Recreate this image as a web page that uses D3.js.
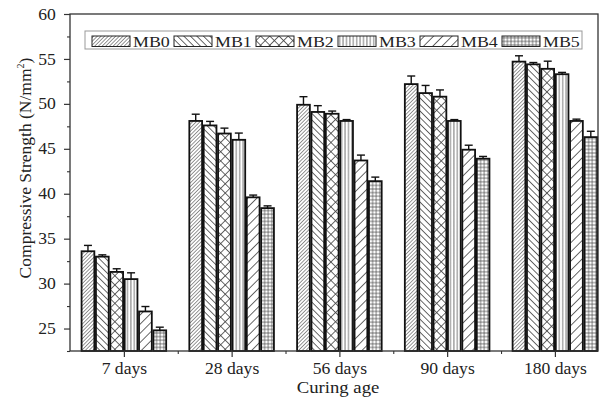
<!DOCTYPE html>
<html>
<head>
<meta charset="utf-8">
<script src="https://cdn.jsdelivr.net/npm/d3@7"></script>
<style>
  html, body { margin: 0; padding: 0; background: #fff; }
  svg { display: block; font-family: "Liberation Serif", "Times New Roman", serif; }
</style>
</head>
<body>
<div id="chart"></div>
<script>
// ---------------- data ----------------
const CATEGORIES = ["7 days", "28 days", "56 days", "90 days", "180 days"];
const SERIES = ["MB0", "MB1", "MB2", "MB3", "MB4", "MB5"];

const MB0 = [33.6, 48.1, 49.9, 52.2, 54.7];
const MB1 = [33.0, 47.6, 49.1, 51.2, 54.4];
const MB2 = [31.3, 46.7, 48.9, 50.8, 53.9];
const MB3 = [30.5, 46.0, 48.1, 48.1, 53.3];
const MB4 = [26.9, 39.6, 43.7, 44.9, 48.1];
const MB5 = [24.8, 38.4, 41.4, 43.9, 46.3];

const ERR0 = [0.65, 0.75, 0.9, 0.9, 0.65];
const ERR1 = [0.2, 0.45, 0.7, 0.85, 0.2];
const ERR2 = [0.35, 0.6, 0.3, 0.75, 0.85];
const ERR3 = [0.7, 0.75, 0.15, 0.15, 0.2];
const ERR4 = [0.55, 0.25, 0.6, 0.5, 0.2];
const ERR5 = [0.35, 0.25, 0.45, 0.25, 0.65];

const Y_TICKS = [25, 30, 35, 40, 45, 50, 55, 60];

(function () {

  const VALUES = [MB0, MB1, MB2, MB3, MB4, MB5];
  const ERRORS = [ERR0, ERR1, ERR2, ERR3, ERR4, ERR5];

  const W = 606, H = 398;
  const left = 70, right = 598, top = 14, bottom = 351;
  const INK = "#222";
  const SX = 1.1;   // the source text is a bit wide, stretch it horizontally

  const svg = d3.select("#chart").append("svg")
    .attr("width", W)
    .attr("height", H);

  svg.append("rect").attr("width", W).attr("height", H).attr("fill", "#fff");

  // ---- hatch patterns ----
  const defs = svg.append("defs");
  function hatch(id, size, angle, cross, width, col) {
    const p = defs.append("pattern")
      .attr("id", id)
      .attr("patternUnits", "userSpaceOnUse")
      .attr("width", size)
      .attr("height", size)
      .attr("patternTransform", `rotate(${angle})`);
    p.append("rect").attr("width", size).attr("height", size).attr("fill", "#fff");
    p.append("line")
      .attr("x1", size / 2).attr("y1", 0).attr("x2", size / 2).attr("y2", size)
      .attr("stroke", col).attr("stroke-width", width);
    if (cross) {
      p.append("line")
        .attr("x1", 0).attr("y1", size / 2).attr("x2", size).attr("y2", size / 2)
        .attr("stroke", col).attr("stroke-width", width);
    }
  }
  hatch("p-MB0", 2.6, 45, false, 0.7, "#666");
  hatch("p-MB1", 4.6, -45, false, 0.8, "#444");
  hatch("p-MB2", 6.5, 45, true, 0.8, "#444");
  hatch("p-MB3", 3.4, 0, false, 0.8, "#555");
  hatch("p-MB4", 6.5, 45, false, 0.8, "#444");
  hatch("p-MB5", 3.6, 0, true, 0.7, "#444");

  // ---- scales ----
  const x = d3.scaleLinear().domain([0.5, 5.4]).range([left, right]);
  const y = d3.scaleLinear().domain([22.5, 60]).range([bottom, top]);

  const groupW = x(1.8) - x(1);
  const sub = d3.scaleBand()
    .domain(SERIES)
    .range([-groupW / 2, groupW / 2]);
  const bw = sub.bandwidth();

  // ---- bars ----
  const rows = [];
  SERIES.forEach((s, j) => {
    CATEGORIES.forEach((c, i) => {
      rows.push({ s, i, v: VALUES[j][i], e: ERRORS[j][i] });
    });
  });

  const bars = svg.append("g");
  bars.selectAll("rect")
    .data(rows)
    .enter()
    .append("rect")
    .attr("x", d => x(d.i + 1) + sub(d.s) + 0.8)
    .attr("y", d => y(d.v))
    .attr("width", bw - 1.6)
    .attr("height", d => bottom - y(d.v))
    .attr("fill", d => `url(#p-${d.s})`)
    .attr("stroke", "#111")
    .attr("stroke-width", 1.8);

  // error bars (upper half only)
  const errs = svg.append("g").attr("stroke", "#111").attr("stroke-width", 1.4);
  rows.forEach(d => {
    const cx = x(d.i + 1) + sub(d.s) + bw / 2;
    errs.append("line")
      .attr("x1", cx).attr("x2", cx)
      .attr("y1", y(d.v)).attr("y2", y(d.v + d.e));
    errs.append("line")
      .attr("x1", cx - 4).attr("x2", cx + 4)
      .attr("y1", y(d.v + d.e)).attr("y2", y(d.v + d.e));
  });

  // ---- frame ----
  svg.append("rect")
    .attr("x", left).attr("y", top)
    .attr("width", right - left).attr("height", bottom - top)
    .attr("fill", "none")
    .attr("stroke", "#333")
    .attr("stroke-width", 1.3);

  // ---- y axis ----
  const yAxis = svg.append("g")
    .attr("transform", `translate(${left},0)`)
    .call(d3.axisLeft(y).tickValues(Y_TICKS).tickSize(6).tickPadding(7));
  yAxis.select(".domain").remove();
  yAxis.selectAll("line").attr("stroke", "#333").attr("stroke-width", 1.2);
  yAxis.selectAll("text")
    .attr("fill", INK)
    .attr("transform", `scale(${SX},1)`)
    .style("font-size", "16px")
    .style("font-family", "Liberation Serif, serif");

  const yMinor = svg.append("g")
    .attr("transform", `translate(${left},0)`)
    .call(d3.axisLeft(y).tickValues(d3.range(22.5, 60, 5)).tickSize(3).tickFormat(""));
  yMinor.select(".domain").remove();
  yMinor.selectAll("line").attr("stroke", "#333").attr("stroke-width", 1.1);

  // ---- x axis ----
  const xAxis = svg.append("g")
    .attr("transform", `translate(0,${bottom})`)
    .call(d3.axisBottom(x)
      .tickValues(CATEGORIES.map((c, i) => i + 1))
      .tickFormat((d, i) => CATEGORIES[i])
      .tickSize(6)
      .tickPadding(6));
  xAxis.select(".domain").remove();
  xAxis.selectAll("line").attr("stroke", "#333").attr("stroke-width", 1.2);
  xAxis.selectAll("text")
    .attr("fill", INK)
    .attr("transform", `scale(${SX},1)`)
    .style("font-size", "16px")
    .style("font-family", "Liberation Serif, serif");

  const xMinor = svg.append("g")
    .attr("transform", `translate(0,${bottom})`)
    .call(d3.axisBottom(x).tickValues([1.5, 2.5, 3.5, 4.5]).tickSize(3).tickFormat(""));
  xMinor.select(".domain").remove();
  xMinor.selectAll("line").attr("stroke", "#333").attr("stroke-width", 1.1);

  // ---- axis titles ----
  svg.append("text")
    .attr("transform", `translate(${(left + right) / 2 + 4},393) scale(${SX},1)`)
    .attr("text-anchor", "middle")
    .attr("fill", INK)
    .style("font-size", "17px")
    .text("Curing age");

  const yt = svg.append("text")
    .attr("transform", `translate(31,168) rotate(-90)`)
    .attr("text-anchor", "middle")
    .attr("fill", INK)
    .style("font-size", "17.5px");
  yt.append("tspan").text("Compressive Strength (N/mm");
  yt.append("tspan").attr("dy", -7).style("font-size", "10px").text("2");
  yt.append("tspan").attr("dy", 7).text(")");

  // ---- legend ----
  const legend = svg.append("g");
  legend.append("rect")
    .attr("x", 85).attr("y", 31)
    .attr("width", 497).attr("height", 18)
    .attr("fill", "#fff")
    .attr("stroke", "#999")
    .attr("stroke-width", 1);

  legend.selectAll("g.item")
    .data(SERIES)
    .enter()
    .append("g")
    .attr("class", "item")
    .attr("transform", (d, i) => `translate(${92 + i * 82},36)`)
    .each(function (d) {
      const row = d3.select(this);
      row.append("rect")
        .attr("width", 38).attr("height", 10.5)
        .attr("fill", `url(#p-${d})`)
        .attr("stroke", "#222")
        .attr("stroke-width", 1);
      row.append("text")
        .attr("transform", `translate(41,11) scale(${SX * 1.05},1)`)
        .attr("fill", INK)
        .style("font-size", "15.5px")
        .text(d);
    });

})();
</script>
</body>
</html>
